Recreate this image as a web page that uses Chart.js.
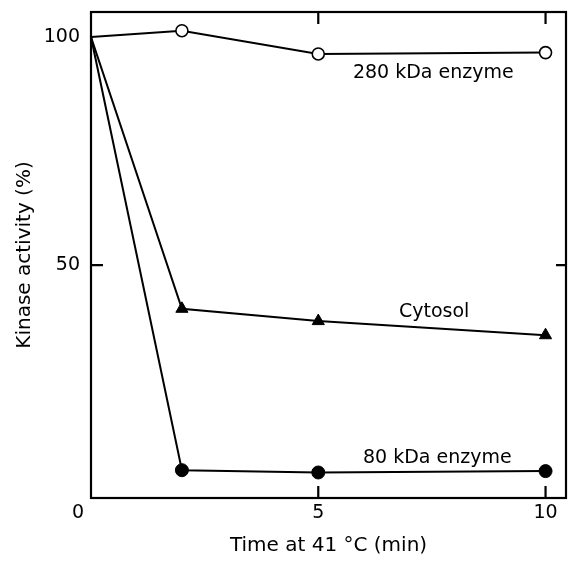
<!DOCTYPE html>
<html>
<head>
<meta charset="utf-8">
<script src="https://cdn.jsdelivr.net/npm/chart.js@4/dist/chart.umd.min.js"></script>
<style>
  html, body { margin: 0; padding: 0; background: #fff; }
  #box { width: 574px; height: 564px; }
</style>
</head>
<body>
<div id="box"><canvas id="kinaseChart"></canvas></div>
<script>
'use strict';

//--------> Data <--------
let timePoints = [0, 2, 5, 10];
let enzyme280 = [100, 101.4, 96.3, 96.6];
let cytosol = [100, 40.4, 37.7, 34.6];
let enzyme80 = [100, 5.0, 4.5, 4.8];

let xTickValues = [5, 10];
let yTickValues = [50, 100];

// series names written on the plot, with where they sit (data units)
let seriesLabels = ['280 kDa enzyme', 'Cytosol', '80 kDa enzyme'];
let seriesLabelX = [7.53, 7.55, 7.62];
let seriesLabelY = [92.1, 39.7, 7.7];

const FONT = 'DejaVu Sans';

function toPoints (ys) {
  let pts = [];
  for (let i = 0; i < timePoints.length; i++) {
    pts.push({ x: timePoints[i], y: ys[i] });
  }
  return pts;
}

//--------> Frame, inward ticks and text <--------
const frameAndTicks = {
  id: 'frameAndTicks',
  afterDatasetsDraw (chart) {
    let ctx = chart.ctx;
    let area = chart.chartArea;
    let xs = chart.scales.x;
    let ys = chart.scales.y;
    let tl = 12;
    ctx.save();
    ctx.strokeStyle = '#000';
    ctx.lineWidth = 2.2;
    ctx.strokeRect(area.left, area.top, area.right - area.left, area.bottom - area.top);

    ctx.beginPath();
    for (let i = 0; i < xTickValues.length; i++) {
      let px = xs.getPixelForValue(xTickValues[i]);
      ctx.moveTo(px, area.bottom); ctx.lineTo(px, area.bottom - tl);
      ctx.moveTo(px, area.top); ctx.lineTo(px, area.top + tl);
    }
    let py = ys.getPixelForValue(50);
    ctx.moveTo(area.left, py); ctx.lineTo(area.left + tl, py);
    ctx.moveTo(area.right, py); ctx.lineTo(area.right - 10, py);
    ctx.stroke();

    ctx.fillStyle = '#000';
    ctx.font = '19px "' + FONT + '"';
    ctx.textAlign = 'center';
    ctx.textBaseline = 'middle';
    for (let i = 0; i < seriesLabels.length; i++) {
      ctx.fillText(seriesLabels[i], xs.getPixelForValue(seriesLabelX[i]), ys.getPixelForValue(seriesLabelY[i]));
    }
    // shared origin label in the corner
    ctx.fillText('0', xs.getPixelForValue(0) - 13, area.bottom + 15);
    ctx.restore();
  }
};

//--------> Chart <--------
let ctx = document.getElementById('kinaseChart').getContext('2d');
let kinaseChart = new Chart(ctx, {
  type: 'line',
  data: {
    datasets: [{
      label: '280 kDa enzyme',
      data: toPoints(enzyme280),
      borderColor: '#000',
      borderWidth: 2,
      pointStyle: 'circle',
      pointRadius: [0, 6, 6, 6],
      pointBackgroundColor: '#fff',
      pointBorderColor: '#000',
      pointBorderWidth: 1.6
    }, {
      label: 'Cytosol',
      data: toPoints(cytosol),
      borderColor: '#000',
      borderWidth: 2,
      pointStyle: 'triangle',
      pointRadius: [0, 7, 7, 7],
      pointBackgroundColor: '#000',
      pointBorderColor: '#000',
      pointBorderWidth: 1
    }, {
      label: '80 kDa enzyme',
      data: toPoints(enzyme80),
      borderColor: '#000',
      borderWidth: 2,
      pointStyle: 'circle',
      pointRadius: [0, 6.5, 6.5, 6.5],
      pointBackgroundColor: '#000',
      pointBorderColor: '#000',
      pointBorderWidth: 1
    }]
  },
  options: {
    responsive: true,
    maintainAspectRatio: false,
    animation: false,
    events: [],
    layout: { padding: { top: 12, right: 4, left: 0, bottom: 0 } },
    plugins: { legend: { display: false }, tooltip: { enabled: false } },
    scales: {
      x: {
        type: 'linear',
        min: 0,
        max: 10.45,
        grid: { display: false, drawTicks: false },
        border: { display: false },
        afterBuildTicks: (scale) => { scale.ticks = xTickValues.map(v => ({ value: v })); },
        afterFit: (scale) => { scale.height = 66; scale.paddingLeft = 0; scale.paddingRight = 0; },
        ticks: { color: '#000', padding: 4, font: { family: FONT, size: 19 } },
        title: {
          display: true,
          text: 'Time at 41 °C (min)',
          color: '#000',
          font: { family: FONT, size: 20 },
          padding: { top: 0, bottom: 6 }
        }
      },
      y: {
        type: 'linear',
        min: -1.1,
        max: 105.5,
        grid: { display: false, drawTicks: false },
        border: { display: false },
        afterBuildTicks: (scale) => { scale.ticks = yTickValues.map(v => ({ value: v })); },
        afterFit: (scale) => { scale.width = 91; scale.paddingTop = 0; scale.paddingBottom = 0; },
        ticks: { color: '#000', padding: 11, font: { family: FONT, size: 19 } },
        title: {
          display: true,
          text: 'Kinase activity (%)',
          color: '#000',
          font: { family: FONT, size: 20 },
          padding: { top: 13, bottom: 0 }
        }
      }
    }
  },
  plugins: [frameAndTicks]
});
</script>
</body>
</html>
